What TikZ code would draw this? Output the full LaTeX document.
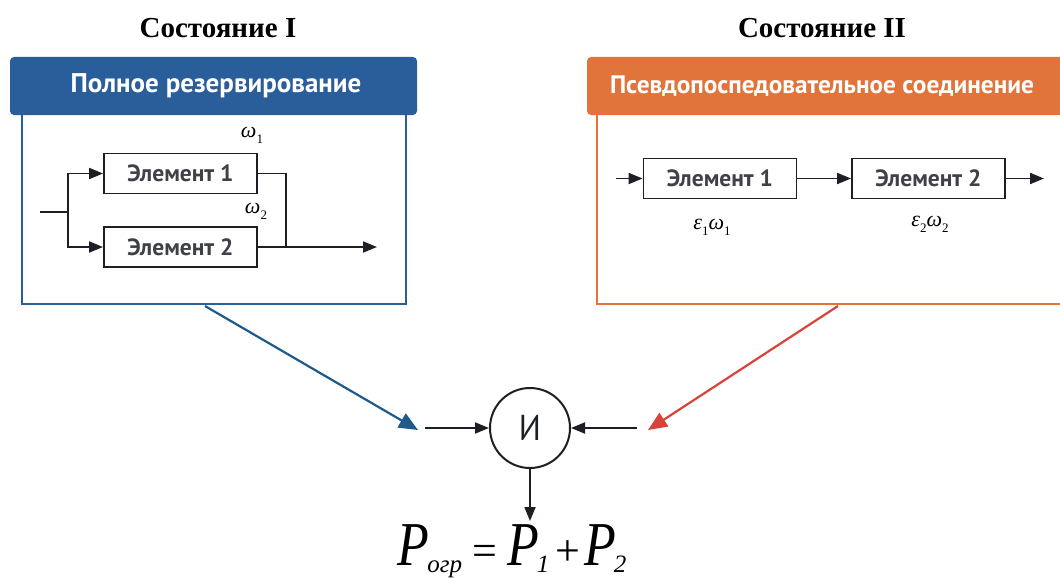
\documentclass[tikz,border=0pt]{standalone}
\usepackage{fontspec}
\setmainfont{Liberation Serif}
\newfontfamily\hdr{PT Sans}
\usetikzlibrary{arrows.meta}
\definecolor{blu}{HTML}{2A5E9B}
\definecolor{org}{HTML}{E1743A}
\definecolor{redar}{HTML}{D8443A}
\definecolor{bluar}{HTML}{1E5A8A}
\definecolor{ink}{HTML}{1C1F24}
\newcommand{\sbs}[1]{\raisebox{-0.28em}{\fontsize{13}{14}\selectfont\upshape #1}}
\newcommand{\bsb}[1]{\hspace{-2pt}\raisebox{-7pt}{\fontsize{25}{27}\selectfont #1}}
\newcommand{\tallP}{\scalebox{1}[1.2]{\fontsize{52}{56}\selectfont P}}
\begin{document}
\begin{tikzpicture}[x=1pt,y=-1pt,
  elem/.style={draw=ink, line width=1.9pt, minimum width=153pt, minimum height=40pt, inner sep=0pt, font=\hdr\bfseries\fontsize{23.5}{26}\selectfont, text=ink!85},
  conn/.style={draw=ink, line width=1.9pt},
  arr/.style={conn, -{Triangle[length=14pt,width=11pt]}},
  bigarr/.style={line width=2.2pt, -{Triangle[length=19pt,width=16pt]}},
  title/.style={font=\bfseries\fontsize{29}{32}\selectfont},
  header/.style={rounded corners=4pt, minimum height=58pt, inner sep=0pt},
  htext/.style={text=white},
  lbl/.style={font=\itshape\fontsize{22}{24}\selectfont, inner sep=0pt}
]
\useasboundingbox (0,0) rectangle (1060,578);
\fill[white] (0,0) rectangle (1060,578);

% titles
\node[title] (t1) at (218,28) {Состояние I};
\node[title] (t2) at (822,28) {Состояние II};

% left panel
\node[draw=blu, line width=1.6pt, minimum width=384pt, minimum height=190pt] (b1) at (214,209) {};
\node[header, fill=blu, minimum width=407pt] (h1) at (213.5,86) {};
\node[htext, font=\hdr\bfseries\fontsize{27}{30}\selectfont] (h1t) at (216,86) {Полное резервирование};

\node[elem] (e1) at (180.5,173.5) {Элемент 1};
\node[elem] (e2) at (180.5,247) {Элемент 2};
\coordinate (in1) at (40,212);
\coordinate (j1) at (68,212);
\coordinate (j2) at (286,247);
\coordinate (out1) at (377,247);
\draw[conn] (in1) -- (j1);
\draw[arr] (j1) |- (e1.west);
\draw[arr] (j1) |- (e2.west);
\draw[conn] (e1.east) -| (j2);
\draw[arr] (e2.east) -- (out1);
\node[lbl] (w1) at (252,135) {ω\sbs{1}};
\node[lbl] (w2) at (256,211) {ω\sbs{2}};

% right panel
\node[draw=org, line width=1.6pt, minimum width=470pt, minimum height=190pt] (b2) at (832,209) {};
\node[header, fill=org, minimum width=490pt] (h2) at (832,86) {};
\node[htext, font=\hdr\bfseries\fontsize{25.3}{30}\selectfont] (h2t) at (822,86) {Псевдопоспедовательное соединение};

\node[elem] (r1) at (720,178.5) {Элемент 1};
\node[elem] (r2) at (928.5,178.5) {Элемент 2};
\coordinate (in2) at (616,178.5);
\coordinate (out2) at (1044,178.5);
\draw[arr] (in2) -- (r1.west);
\draw[arr] (r1.east) -- (r2.west);
\draw[arr] (r2.east) -- (out2);
\node[lbl] (l1) at (712,227) {ε\sbs{1}ω\sbs{1}};
\node[lbl] (l2) at (930,224) {ε\sbs{2}ω\sbs{2}};

% AND node
\node[draw=ink, line width=2pt, circle, minimum size=80pt, inner sep=0pt, font=\hdr\fontsize{36}{38}\selectfont, text=ink] (and) at (530,428) {\scalebox{0.9}[1]{И}};
\coordinate (la) at (425,428);
\coordinate (ra) at (637,428);
\coordinate (res) at (530,521);
\draw[arr] (la) -- (and.west);
\draw[arr] (ra) -- (and.east);
\draw[arr] (and.south) -- (res);

% colored arrows
\coordinate (bs) at (205,306);
\coordinate (be) at (418,430);
\coordinate (rs) at (838,306);
\coordinate (re) at (648,430);
\draw[bigarr, draw=bluar, fill=bluar] (bs) -- (be);
\draw[bigarr, draw=redar, fill=redar] (rs) -- (re);

% formula
\node[font=\itshape\fontsize{44}{48}\selectfont, anchor=base, inner sep=0pt] (f) at (512,565) {\tallP\bsb{огр}\hspace{10pt}{\upshape=}\hspace{10pt}\tallP\bsb{1}\hspace{6pt}{\upshape+}\hspace{4pt}\tallP\bsb{2}};
\end{tikzpicture}
\end{document}
